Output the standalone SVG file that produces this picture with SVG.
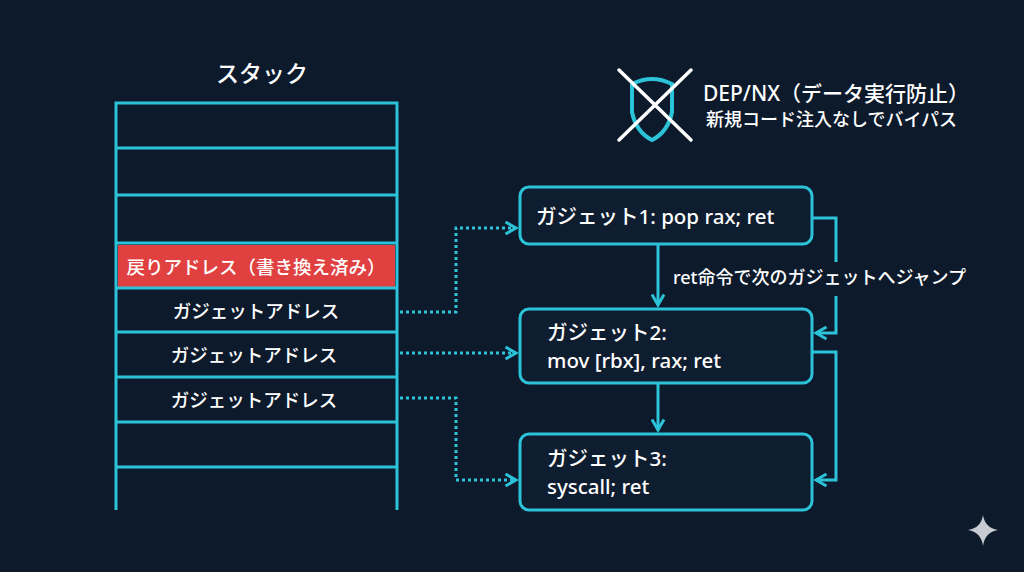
<svg xmlns="http://www.w3.org/2000/svg" width="1024" height="572" viewBox="0 0 1024 572">
<defs>
<style>
.ln{stroke:#2cc3d8;stroke-width:3;fill:none}
.dt{stroke:#2cc3d8;stroke-width:3;fill:none;stroke-dasharray:3 3}
.box{fill:#0f1d30;stroke:#2cc3d8;stroke-width:3}
.t{font-family:"Noto Sans CJK JP","Noto Sans",sans-serif;fill:#fff;font-weight:500}
.l{font-family:"Noto Sans","Noto Sans CJK JP",sans-serif;fill:#fff;font-weight:500}
</style>
<marker id="ah" viewBox="0 0 10 10" refX="8" refY="5" markerWidth="5" markerHeight="5" orient="auto"><path d="M1,1 L8,5 L1,9" fill="none" stroke="#2cc3d8" stroke-width="2"/></marker>
</defs>
<rect width="1024" height="572" fill="#0c1a2c"/>
<g id="stack">
<text class="t" x="262" y="82" text-anchor="middle" font-size="23" font-weight="bold">スタック</text>
<rect x="118" y="245" width="277" height="42" fill="#e04040"/>
<path class="ln" d="M116,510 V103 H397 V510 M116,148 H397 M116,195 H397 M116,243 H397 M116,288 H397 M116,332 H397 M116,377 H397 M116,422 H397 M116,467 H397"/>
<text class="t" x="256" y="274" text-anchor="middle" font-size="18.5">戻りアドレス（書き換え済み）</text>
<text class="t" x="256" y="318" text-anchor="middle" font-size="18.5">ガジェットアドレス</text>
<text class="t" x="254" y="362" text-anchor="middle" font-size="18.5">ガジェットアドレス</text>
<text class="t" x="254" y="407" text-anchor="middle" font-size="18.5">ガジェットアドレス</text>
</g>
<g id="dep">
<path d="M632,84 Q652,74 672,84 L672,112 Q668,132 652,140 Q636,132 632,112 Z" fill="none" stroke="#2cc3d8" stroke-width="4"/>
<path d="M619,70 L691,140 M691,70 L619,140" stroke="#fff" stroke-width="3.5" stroke-linecap="round"/>
<text class="l" x="703" y="101" font-size="21">DEP/NX（データ実行防止）</text>
<text class="t" x="706" y="126" font-size="18">新規コード注入なしでバイパス</text>
</g>
<g id="g1"><rect class="box" x="520" y="187" width="292" height="57" rx="9"/>
<text class="l" x="536" y="224" font-size="20.5">ガジェット1: pop rax; ret</text></g>
<g id="g2"><rect class="box" x="520" y="309" width="292" height="74" rx="9"/>
<text class="l" x="547" y="340" font-size="20.5">ガジェット2:</text>
<text class="l" x="547" y="368" font-size="20.5">mov [rbx], rax; ret</text></g>
<g id="g3"><rect class="box" x="520" y="434" width="292" height="76" rx="9"/>
<text class="l" x="547" y="466" font-size="20.5">ガジェット3:</text>
<text class="l" x="547" y="494" font-size="20.5">syscall; ret</text></g>
<g id="connectors">
<path class="ln" marker-end="url(#ah)" d="M658,244 V305"/>
<path class="ln" marker-end="url(#ah)" d="M658,383 V430"/>
<path class="ln" d="M812,218 H836 V262"/>
<path class="ln" marker-end="url(#ah)" d="M836,296 V333 H816"/>
<path class="ln" marker-end="url(#ah)" d="M812,352 H836 V480 H816"/>
<path class="dt" marker-end="url(#ah)" d="M400,312 H456 V228 H516"/>
<path class="dt" marker-end="url(#ah)" d="M400,353 H516"/>
<path class="dt" marker-end="url(#ah)" d="M400,398 H456 V480 H516"/>
<text class="l" x="673" y="284" font-size="18">ret命令で次のガジェットへジャンプ</text>
</g>
<path d="M983,515 Q985,528 998,530 Q985,532 983,546 Q981,532 968,530 Q981,528 983,515 Z" fill="#c8ccd2"/>
</svg>
